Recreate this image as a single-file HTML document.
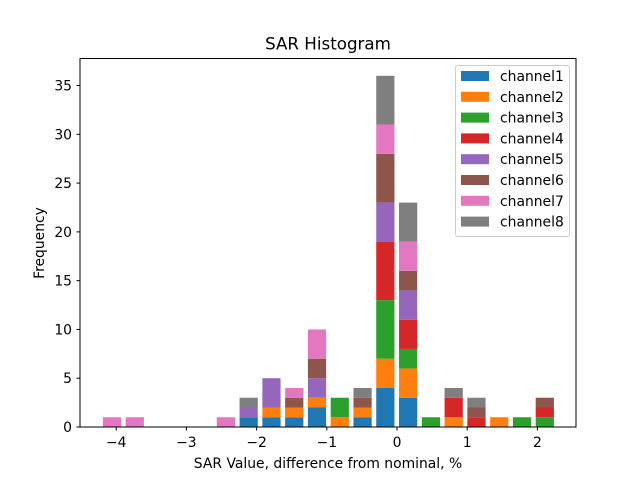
<!DOCTYPE html>
<html><head><meta charset="utf-8"><style>
body{margin:0;background:#fff;}
svg text{font-family:"DejaVu Sans","Liberation Sans",sans-serif;}
</style></head><body>
<svg id="chart" width="640" height="480" xmlns="http://www.w3.org/2000/svg">
<rect width="640" height="480" fill="#fff"/>
<text x="328" y="49.5" font-size="16.7" text-anchor="middle">SAR Histogram</text>
<g id="bars"></g>
<rect x="80" y="58.5" width="496" height="368.5" fill="none" stroke="#000" stroke-width="1"/>
<g id="xticks"></g>
<g id="yticks"></g>
<text x="328" y="468" font-size="13.9" text-anchor="middle">SAR Value, difference from nominal, %</text>
<text x="44" y="243" font-size="13.9" text-anchor="middle" transform="rotate(-90 44 243)">Frequency</text>
<g id="legend"></g>
</svg>
<script>
const binStart = -4.06;
const binStep = 0.3245;
const seriesNames = ["channel1","channel2","channel3","channel4","channel5","channel6","channel7","channel8"];
const colors = ["#1f77b4","#ff7f0e","#2ca02c","#d62728","#9467bd","#8c564b","#e377c2","#7f7f7f"];
// counts per bin (20 bins) per channel
const channel1 = [0,0,0,0,0,0,1,1,1,2,0,1,4,3,0,0,0,0,0,0];
const channel2 = [0,0,0,0,0,0,0,1,1,1,1,1,3,3,0,1,0,1,0,0];
const channel3 = [0,0,0,0,0,0,0,0,0,0,2,0,6,2,1,0,0,0,1,1];
const channel4 = [0,0,0,0,0,0,0,0,0,0,0,0,6,3,0,2,1,0,0,1];
const channel5 = [0,0,0,0,0,0,1,3,0,2,0,0,4,3,0,0,0,0,0,0];
const channel6 = [0,0,0,0,0,0,0,0,1,2,0,1,5,2,0,0,1,0,0,1];
const channel7 = [1,1,0,0,0,1,0,0,1,3,0,0,3,3,0,0,0,0,0,0];
const channel8 = [0,0,0,0,0,0,1,0,0,0,0,1,5,4,0,1,1,0,0,0];
const xTickValues = [-4,-3,-2,-1,0,1,2];
const xTickLabels = ["\u22124","\u22123","\u22122","\u22121","0","1","2"];
const yTickValues = [0,5,10,15,20,25,30,35];

const series = [channel1,channel2,channel3,channel4,channel5,channel6,channel7,channel8];
const NS = "http://www.w3.org/2000/svg";
const X0 = -4.516, X1 = 2.55, PX0 = 80, PX1 = 576;
const Y0 = 0, Y1 = 37.77, PY0 = 427, PY1 = 58.5;
function xs(v){return PX0 + (v - X0) / (X1 - X0) * (PX1 - PX0);}
function ys(v){return PY0 + (v - Y0) / (Y1 - Y0) * (PY1 - PY0);}
function mk(tag, attrs){const e=document.createElementNS(NS,tag);for(const k in attrs)e.setAttribute(k,attrs[k]);return e;}

const bars = document.getElementById('bars');
const nb = channel1.length;
const barW = binStep * 0.8;
for (let b = 0; b < nb; b++) {
  let base = 0;
  const c = binStart + b * binStep;
  for (let s = 0; s < series.length; s++) {
    const v = series[s][b];
    if (v > 0) {
      const r = mk('rect', {x: xs(c - barW/2), y: ys(base + v), width: xs(c + barW/2) - xs(c - barW/2), height: ys(base) - ys(base + v), fill: colors[s]});
      
      
      bars.appendChild(r);
    }
    base += v;
  }
}
const xt = document.getElementById('xticks');
xTickValues.forEach((v, i) => {
  const x = xs(v);
  const l = mk('line', {x1: x, x2: x, y1: 427, y2: 430.5, stroke: '#000'});
  
  
  xt.appendChild(l);
  const t = mk('text', {x: x, y: 447, 'font-size': 13.9, 'text-anchor': 'middle'});
  t.textContent = xTickLabels[i];
  
  
  xt.appendChild(t);
});
const yt = document.getElementById('yticks');
yTickValues.forEach(v => {
  const y = ys(v);
  const l = mk('line', {x1: 76.5, x2: 80, y1: y, y2: y, stroke: '#000'});
  
  
  yt.appendChild(l);
  const t = mk('text', {x: 72, y: y + 5, 'font-size': 13.9, 'text-anchor': 'end'});
  t.textContent = v;
  
  
  yt.appendChild(t);
});
const lg = document.getElementById('legend');
const box = mk('rect', {x: 455.5, y: 65.5, width: 114, height: 171, rx: 2.5, fill: '#fff', 'fill-opacity': 0.8, stroke: '#ccc'});


lg.appendChild(box);
seriesNames.forEach((n, i) => {
  const y = 76 + i * 20.8;
  const p = mk('rect', {x: 461, y: y - 5, width: 28, height: 10, fill: colors[i]});
  
  
  lg.appendChild(p);
  const t = mk('text', {x: 500, y: y + 5, 'font-size': 13.9});
  t.textContent = n;
  
  
  lg.appendChild(t);
});
</script>
</body></html>
